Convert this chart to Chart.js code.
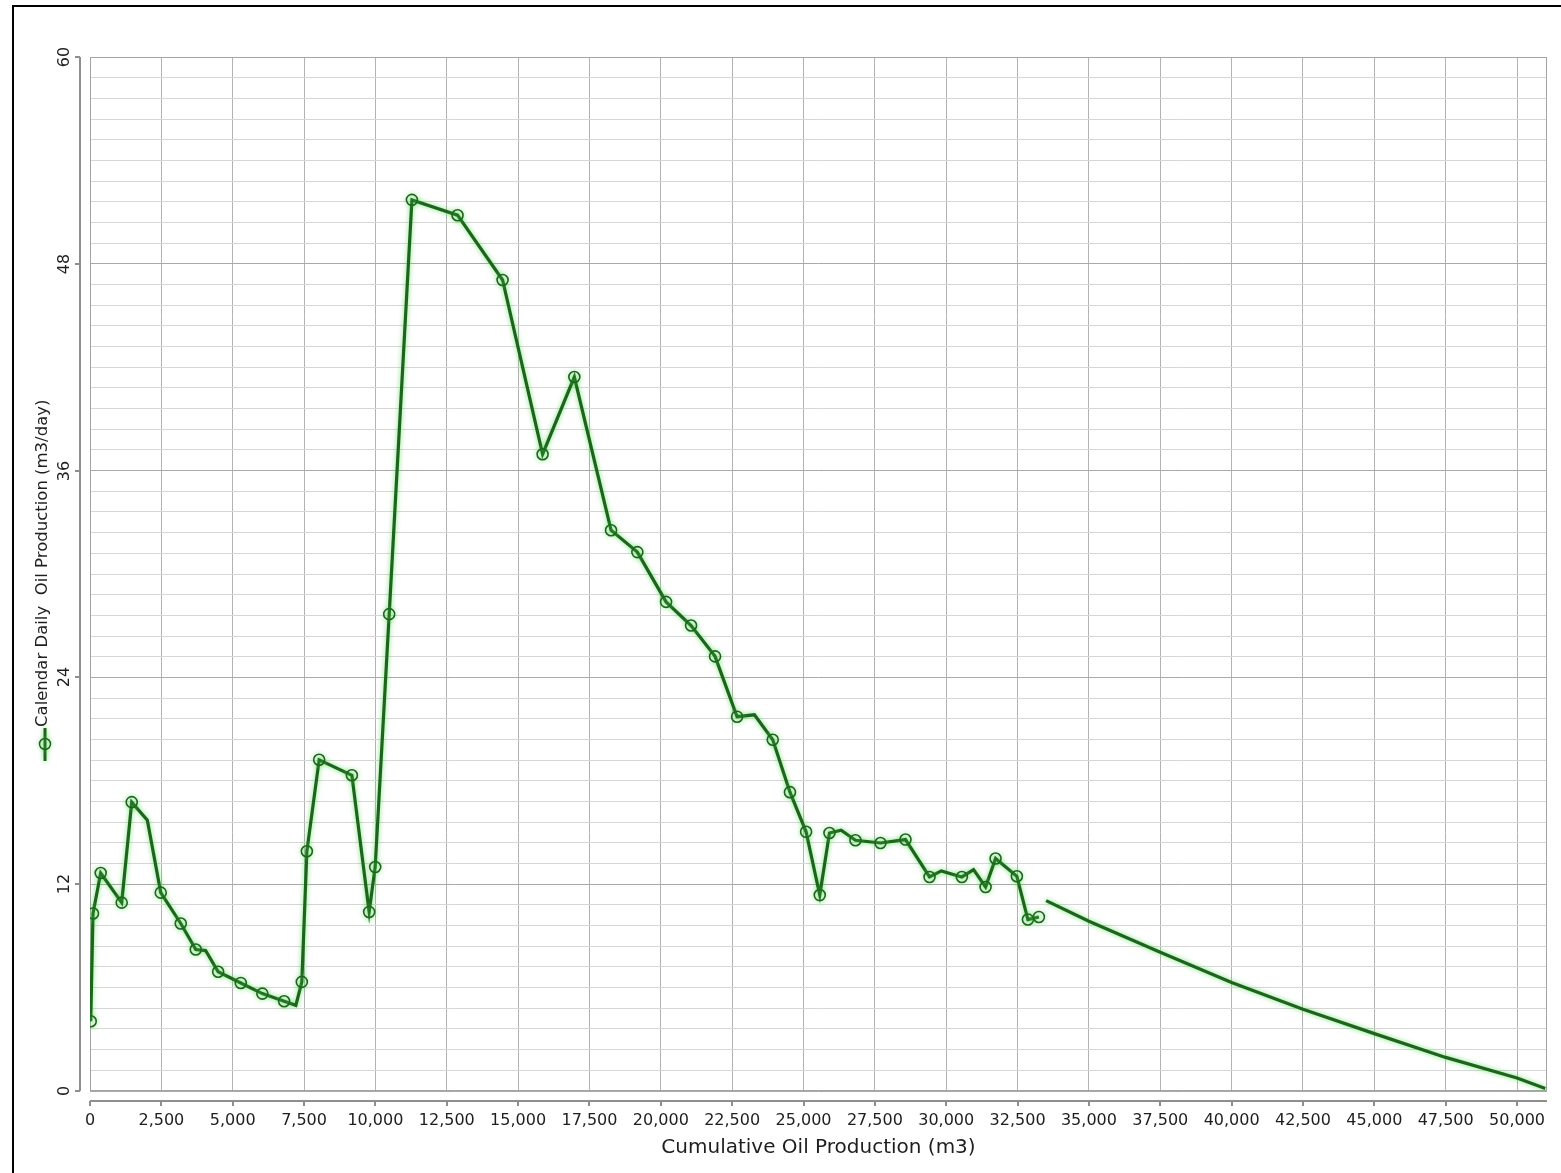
<!DOCTYPE html>
<html><head><meta charset="utf-8">
<script src="https://cdn.jsdelivr.net/npm/chart.js@4/dist/chart.umd.min.js"></script>
<style>
html,body{margin:0;padding:0;background:#fff;overflow:hidden;}
canvas{position:absolute;left:0;top:0;}
#frame{position:absolute;left:12px;top:5px;width:1620px;height:1230px;border:2px solid #000;box-sizing:border-box;pointer-events:none;}
</style></head>
<body>
<canvas id="c" width="1561" height="1173"></canvas>
<div id="frame"></div>
<script>
// ---- data ----
const histCumOil = [25, 105, 375, 1111, 1462, 2009, 2479, 3180, 3706, 4050, 4490, 5283, 6040, 6802, 7212, 7422,
  7598, 8029, 9176, 9781, 9992, 10483, 11279, 12878, 14456, 15858, 16970, 18256, 19178, 20184, 21060, 21900,
  22672, 23280, 23922, 24525, 25090, 25569, 25909, 26319, 26820, 27697, 28573, 29415, 29826, 30548, 30958,
  31379, 31729, 32476, 32862, 33247];
const histRate = [4.05, 10.30, 12.65, 10.93, 16.76, 15.71, 11.51, 9.72, 8.21, 8.15, 6.92, 6.27, 5.65, 5.21, 4.97, 6.33,
  13.91, 19.22, 18.32, 10.39, 13.00, 27.67, 51.71, 50.82, 47.06, 36.95, 41.43, 32.54, 31.27, 28.38, 27.01, 25.22,
  21.72, 21.83, 20.38, 17.34, 15.04, 11.37, 14.97, 15.13, 14.55, 14.39, 14.59, 12.42, 12.77, 12.42, 12.85,
  11.84, 13.49, 12.46, 9.95, 10.10];
// 1 = reported value (drawn with a marker), 0 = intermediate vertex
const histReported = [1, 1, 1, 1, 1, 0, 1, 1, 1, 0, 1, 1, 1, 1, 0, 1,
  1, 1, 1, 1, 1, 1, 1, 1, 1, 1, 1, 1, 1, 1, 1, 1,
  1, 0, 1, 1, 1, 1, 1, 0, 1, 1, 1, 1, 0, 1, 0,
  1, 1, 1, 1, 1];
const forecastCumOil = [33500, 35000, 37500, 40000, 42500, 45000, 47500, 50000, 50990];
const forecastRate = [11.05, 9.85, 8.05, 6.30, 4.75, 3.33, 1.95, 0.75, 0.15];

const xMin = 0, xMax = 51050;
const xTickValues = [0, 2500, 5000, 7500, 10000, 12500, 15000, 17500, 20000, 22500, 25000,
  27500, 30000, 32500, 35000, 37500, 40000, 42500, 45000, 47500, 50000];
const yMin = 0, yMax = 60, yGridStep = 1.2;
const yLabelValues = [0, 12, 24, 36, 48, 60];
const xTitle = 'Cumulative Oil Production (m3)';
const yTitle = 'Calendar Daily  Oil Production (m3/day)';

// ---- styling ----
const GREEN = '#1b661b';
const FONT = 'DejaVu Sans';
const TXT = '#1e1e1e';

const isMajorY = v => Math.abs(v / 12 - Math.round(v / 12)) < 1e-6;

const deco = {
  id: 'deco',
  beforeDatasetsDraw(chart) {
    const {ctx, chartArea: a, scales: {x, y}} = chart;
    ctx.save();
    // plot frame
    ctx.strokeStyle = '#a4a4a4'; ctx.lineWidth = 1;
    ctx.strokeRect(Math.round(a.left) + 0.5, Math.round(a.top) + 0.5,
                   Math.round(a.right - a.left) - 1, Math.round(a.bottom - a.top) - 1);
    // offset y axis
    ctx.strokeStyle = '#8e8e8e'; ctx.lineWidth = 2;
    const ax = Math.round(a.left) - 10;
    ctx.beginPath(); ctx.moveTo(ax, a.top); ctx.lineTo(ax, a.bottom); ctx.stroke();
    ctx.fillStyle = TXT;
    ctx.font = '16px "' + FONT + '"';
    ctx.textAlign = 'center'; ctx.textBaseline = 'middle';
    yLabelValues.forEach(v => {
      const py = Math.round(y.getPixelForValue(v));
      ctx.beginPath(); ctx.moveTo(ax - 5, py); ctx.lineTo(ax, py); ctx.stroke();
      ctx.save(); ctx.translate(ax - 15, py); ctx.rotate(-Math.PI / 2);
      ctx.fillText(String(v), 0, 0); ctx.restore();
    });
    // offset x axis
    const ay = Math.round(a.bottom) + 10;
    ctx.beginPath(); ctx.moveTo(a.left, ay); ctx.lineTo(a.right, ay); ctx.stroke();
    x.ticks.forEach(t => {
      const px = Math.round(x.getPixelForValue(t.value));
      ctx.beginPath(); ctx.moveTo(px, ay); ctx.lineTo(px, ay + 5); ctx.stroke();
    });
    // y title with legend symbol
    const tx = 43, ty0 = 727;
    ctx.save(); ctx.translate(tx, ty0); ctx.rotate(-Math.PI / 2);
    ctx.textAlign = 'left'; ctx.textBaseline = 'middle';
    ctx.font = '16.5px "' + FONT + '"';
    ctx.fillText(yTitle, 0, 0);
    ctx.restore();
    ctx.shadowColor = 'rgba(90,215,90,0.8)'; ctx.shadowBlur = 5;
    ctx.strokeStyle = GREEN; ctx.lineWidth = 3;
    ctx.beginPath(); ctx.moveTo(45, 728); ctx.lineTo(45, 761); ctx.stroke();
    ctx.lineWidth = 1.5;
    ctx.beginPath(); ctx.arc(45, 744, 5.5, 0, Math.PI * 2); ctx.stroke();
    ctx.restore();
    // glow for the data lines
    ctx.save();
    ctx.shadowColor = 'rgba(90,215,90,0.8)'; ctx.shadowBlur = 5;
  },
  afterDatasetsDraw(chart) {
    chart.ctx.restore();
  }
};

const histData = histCumOil.map((v, i) => ({x: v, y: histRate[i]}));
const fcData = forecastCumOil.map((v, i) => ({x: v, y: forecastRate[i]}));

new Chart(document.getElementById('c'), {
  type: 'line',
  data: {
    datasets: [
      {
        label: 'Calendar Daily Oil Production (m3/day)',
        data: histData,
        borderColor: GREEN, borderWidth: 3.2, tension: 0,
        pointRadius: ctx => histReported[ctx.dataIndex] ? 5.5 : 0,
        pointBorderColor: GREEN, pointBorderWidth: 1.6,
        pointBackgroundColor: 'rgba(255,255,255,0)'
      },
      {
        label: 'Forecast',
        data: fcData,
        borderColor: GREEN, borderWidth: 3.2, tension: 0,
        pointRadius: 0
      }
    ]
  },
  options: {
    responsive: false,
    animation: false,
    events: [],
    layout: {padding: {left: 0, top: 57, right: 14, bottom: 0}},
    plugins: {legend: {display: false}, tooltip: {enabled: false}},
    scales: {
      x: {
        type: 'linear', min: xMin, max: xMax,
        afterBuildTicks: s => { s.ticks = xTickValues.map(v => ({value: v})); },
        afterFit: s => { s.height = 82; s.paddingLeft = 0; s.paddingRight = 0; },
        ticks: {
          autoSkip: false, maxRotation: 0, minRotation: 0,
          padding: 20, color: TXT, font: {family: FONT, size: 16},
          callback: v => Number(v).toLocaleString('en-US')
        },
        grid: {color: '#b2b2b2', lineWidth: 1, drawTicks: false},
        border: {display: false},
        title: {display: true, text: xTitle, color: TXT, font: {family: FONT, size: 20}, padding: {top: 0, bottom: 13}}
      },
      y: {
        type: 'linear', min: yMin, max: yMax,
        ticks: {stepSize: yGridStep, display: false},
        afterFit: s => { s.width = 90; s.paddingTop = 0; s.paddingBottom = 0; },
        grid: {
          color: c => isMajorY(c.tick.value) ? '#a9a9a9' : '#d6d6d6',
          lineWidth: 1, drawTicks: false
        },
        border: {display: false}
      }
    }
  },
  plugins: [deco]
});
</script>
</body></html>
